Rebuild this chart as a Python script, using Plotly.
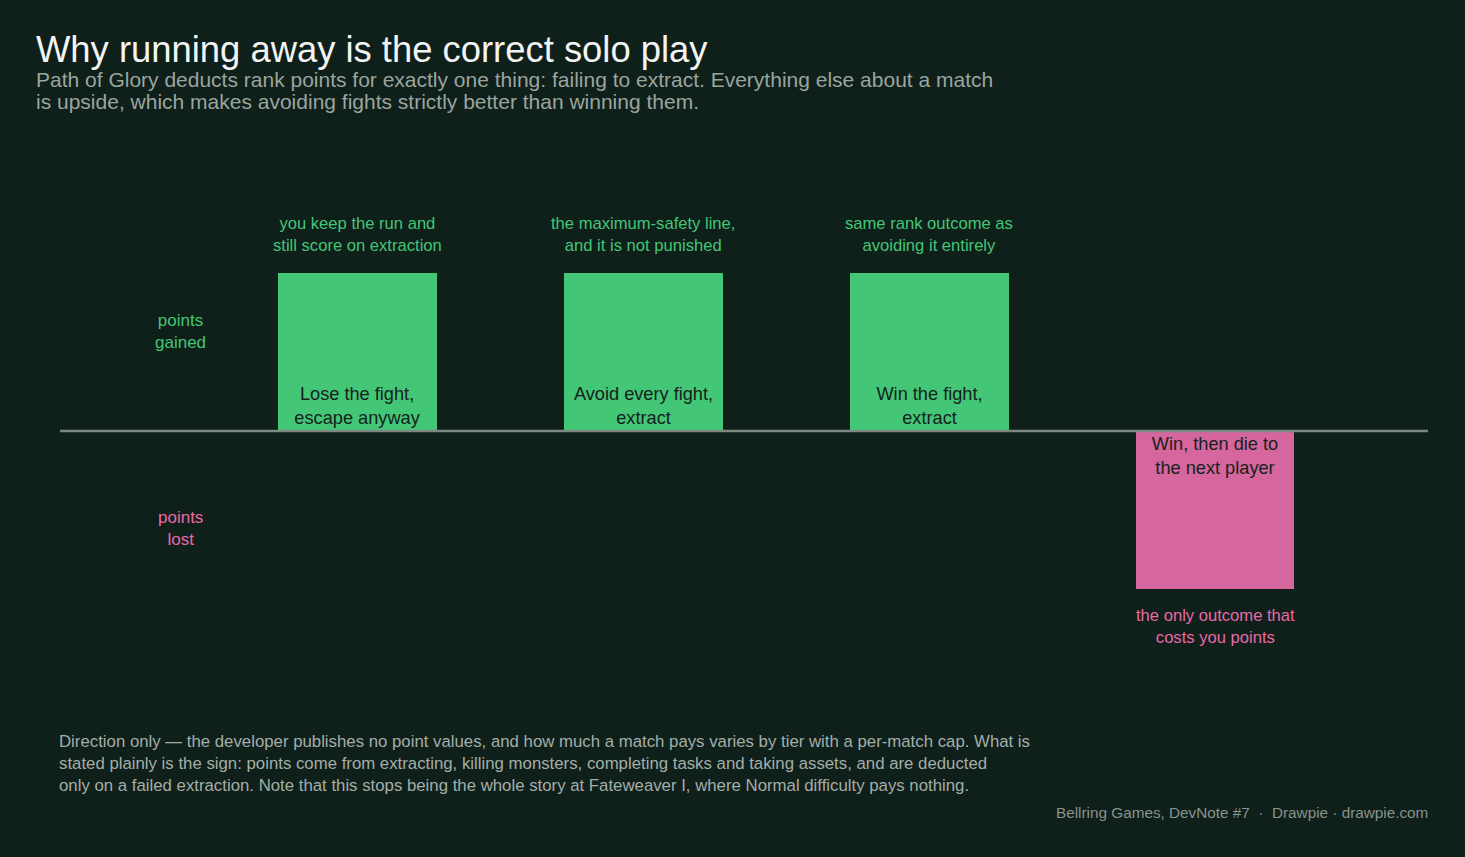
import plotly.graph_objects as go

BG = "#0f1f1a"
GREEN = "#43c776"
PINK = "#d6669e"
PINK_TEXT = "#e86aa8"
DARK = "#15221c"
FONT = "Liberation Sans, Arial, sans-serif"

# outcomes of a solo match, direction only (+1 gains points, -1 loses points)
outcomes = [
    "Lose the fight,<br>escape anyway",
    "Avoid every fight,<br>extract",
    "Win the fight,<br>extract",
    "Win, then die to<br>the next player",
]
direction = [1, 1, 1, -1]
notes = [
    "you keep the run and<br>still score on extraction",
    "the maximum-safety line,<br>and it is not punished",
    "same rank outcome as<br>avoiding it entirely",
    "the only outcome that<br>costs you points",
]

title = "Why running away is the correct solo play"
subtitle = [
    "Path of Glory deducts rank points for exactly one thing: failing to extract. Everything else about a match",
    "is upside, which makes avoiding fights strictly better than winning them.",
]
footnote = [
    "Direction only \u2014 the developer publishes no point values, and how much a match pays varies by tier with a per-match cap. What is",
    "stated plainly is the sign: points come from extracting, killing monsters, completing tasks and taking assets, and are deducted",
    "only on a failed extraction. Note that this stops being the whole story at Fateweaver I, where Normal difficulty pays nothing.",
]
source = "Bellring Games, DevNote #7  \u00b7  Drawpie \u00b7 drawpie.com"

bar_colors = [GREEN if d > 0 else PINK for d in direction]

fig = go.Figure()
fig.add_trace(go.Bar(
    x=list(range(len(outcomes))),
    y=direction,
    width=0.556,
    marker=dict(color=bar_colors, line=dict(width=0)),
    text=outcomes,
    textposition="inside",
    insidetextanchor="start",
    textangle=0,
    textfont=dict(family=FONT, size=18.2, color=DARK),
    hoverinfo="skip",
))

# notes above the gains, below the loss
for i, (d, note) in enumerate(zip(direction, notes)):
    fig.add_annotation(
        x=i, y=d, xref="x", yref="y",
        text=note, showarrow=False,
        yanchor="bottom" if d > 0 else "top",
        yshift=16 if d > 0 else -15,
        font=dict(family=FONT, size=16.6, color=GREEN if d > 0 else PINK_TEXT),
        align="center",
    )

# side labels
fig.add_annotation(x=-0.62, y=0.63, xref="x", yref="y", text="points<br>gained",
                   showarrow=False, font=dict(family=FONT, size=17, color=GREEN))
fig.add_annotation(x=-0.62, y=-0.62, xref="x", yref="y", text="points<br>lost",
                   showarrow=False, font=dict(family=FONT, size=17, color=PINK_TEXT))

# zero line
fig.add_shape(type="line", xref="paper", yref="y", x0=0, x1=1, y0=0, y1=0,
              line=dict(color="#7c8a82", width=2.5))

# title block
fig.add_annotation(xref="paper", yref="paper", x=-0.019, y=1.1708,
                   xanchor="left", yanchor="middle", showarrow=False, text=title,
                   font=dict(family=FONT, size=36.4, color="#f2f5f3"))
for k, line in enumerate(subtitle):
    fig.add_annotation(xref="paper", yref="paper", x=-0.019, y=1.118 - k * 0.0387,
                       xanchor="left", yanchor="middle", showarrow=False, text=line,
                       font=dict(family=FONT, size=21, color="#9aa59f"))

# footnote and source
fig.add_annotation(
    xref="paper", yref="paper", x=-0.002, y=-0.0257,
    xanchor="left", yanchor="top", align="left", showarrow=False,
    text="<br>".join(footnote),
    font=dict(family=FONT, size=16.8, color="#a3aea8"),
)
fig.add_annotation(
    xref="paper", yref="paper", x=1.0015, y=-0.1708,
    xanchor="right", yanchor="middle", showarrow=False,
    text=source,
    font=dict(family=FONT, size=15.3, color="#87938c"),
)

fig.update_layout(
    width=1465, height=857,
    paper_bgcolor=BG, plot_bgcolor=BG,
    margin=dict(l=60, r=37, t=147, b=142),
    showlegend=False,
    bargap=0,
    xaxis=dict(range=[-1.04, 3.745], visible=False, fixedrange=True),
    yaxis=dict(range=[-1.8, 1.8], visible=False, fixedrange=True),
    uniformtext=dict(mode="show", minsize=10),
)

fig.write_html(
    "out.html",
    config={"displayModeBar": False},
    post_script="document.body.style.margin='0';document.body.style.background='" + BG + "';",
)
